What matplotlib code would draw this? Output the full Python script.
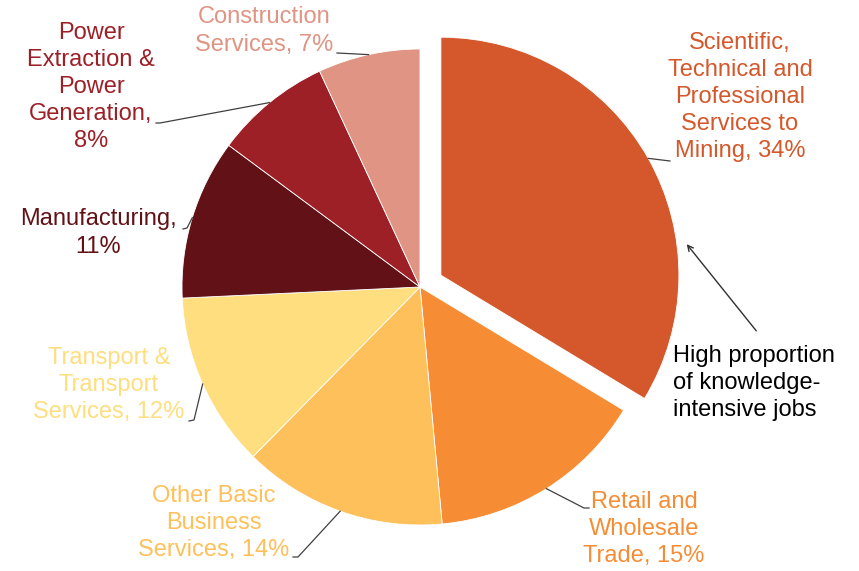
import numpy as np
import matplotlib
matplotlib.use("Agg")
from matplotlib import pyplot as plt

W, H = 859, 571

# Share of jobs by sector, clockwise from the top
sectors = ["Scientific,\nTechnical and\nProfessional\nServices to\nMining, 34%",
           "Retail and\nWholesale\nTrade, 15%",
           "Other Basic\nBusiness\nServices, 14%",
           "Transport &\nTransport\nServices, 12%",
           "Manufacturing,\n11%",
           "Power\nExtraction &\nPower\nGeneration,\n8%",
           "Construction\nServices, 7%"]
shares = [34, 15, 14, 12, 11, 8, 7]
colors = ["#D4582B", "#F68D35", "#FEC05A", "#FEDE7E",
          "#621216", "#9D2027", "#DF9484"]

# Label layout in pixel coordinates (top-left origin)
label_pos = [(740, 97), (644, 529), (214, 523), (109, 385),
             (98, 233), (91, 87), (264, 31)]
leader_ends = [[(670, 161)],
               [(584, 508), (589, 508)],
               [(298, 557), (293, 557)],
               [(194, 420), (189, 421)],
               [(187, 228), (183, 229)],
               [(160, 123), (156, 123)],
               [(337, 53)]]

cx, cy, R = 420, 287, 238
# pie explode is in data units here (pixels)
explode = [24, 0, 0, 0, 0, 0, 0]

plt.rcParams['font.family'] = ['Liberation Sans', 'DejaVu Sans']

fig = plt.figure(figsize=(W / 100, H / 100), dpi=100)
ax = fig.add_axes([0, 0, 1, 1])

wedges, _ = ax.pie(shares, colors=colors, explode=explode, startangle=90,
                   counterclock=False, radius=R, center=(cx, H - cy),
                   wedgeprops=dict(edgecolor='white', linewidth=0.6))
ax.set_xlim(0, W)
ax.set_ylim(0, H)
ax.set_aspect('equal')
ax.axis('off')

for w, text, pos, ends, col in zip(wedges, sectors, label_pos, leader_ends, colors):
    mid = np.deg2rad((w.theta1 + w.theta2) / 2)
    x0 = w.center[0] + w.r * np.cos(mid)
    y0 = w.center[1] + w.r * np.sin(mid)
    xs = [x0] + [p[0] for p in ends]
    ys = [y0] + [H - p[1] for p in ends]
    ax.plot(xs, ys, color='#404040', lw=0.9)
    ax.text(pos[0], H - pos[1], text, ha='center', va='center',
            fontsize=17, color=col, linespacing=1.3)

# Callout for the exploded slice
ax.annotate("", xy=(685, H - 242), xytext=(758, H - 333),
            arrowprops=dict(arrowstyle='->', color='#303030', lw=1))
ax.text(673, H - 383, "High proportion\nof knowledge-\nintensive jobs",
        ha='left', va='center', fontsize=17, color='black', linespacing=1.3)

fig.savefig("out.png", dpi=100)
